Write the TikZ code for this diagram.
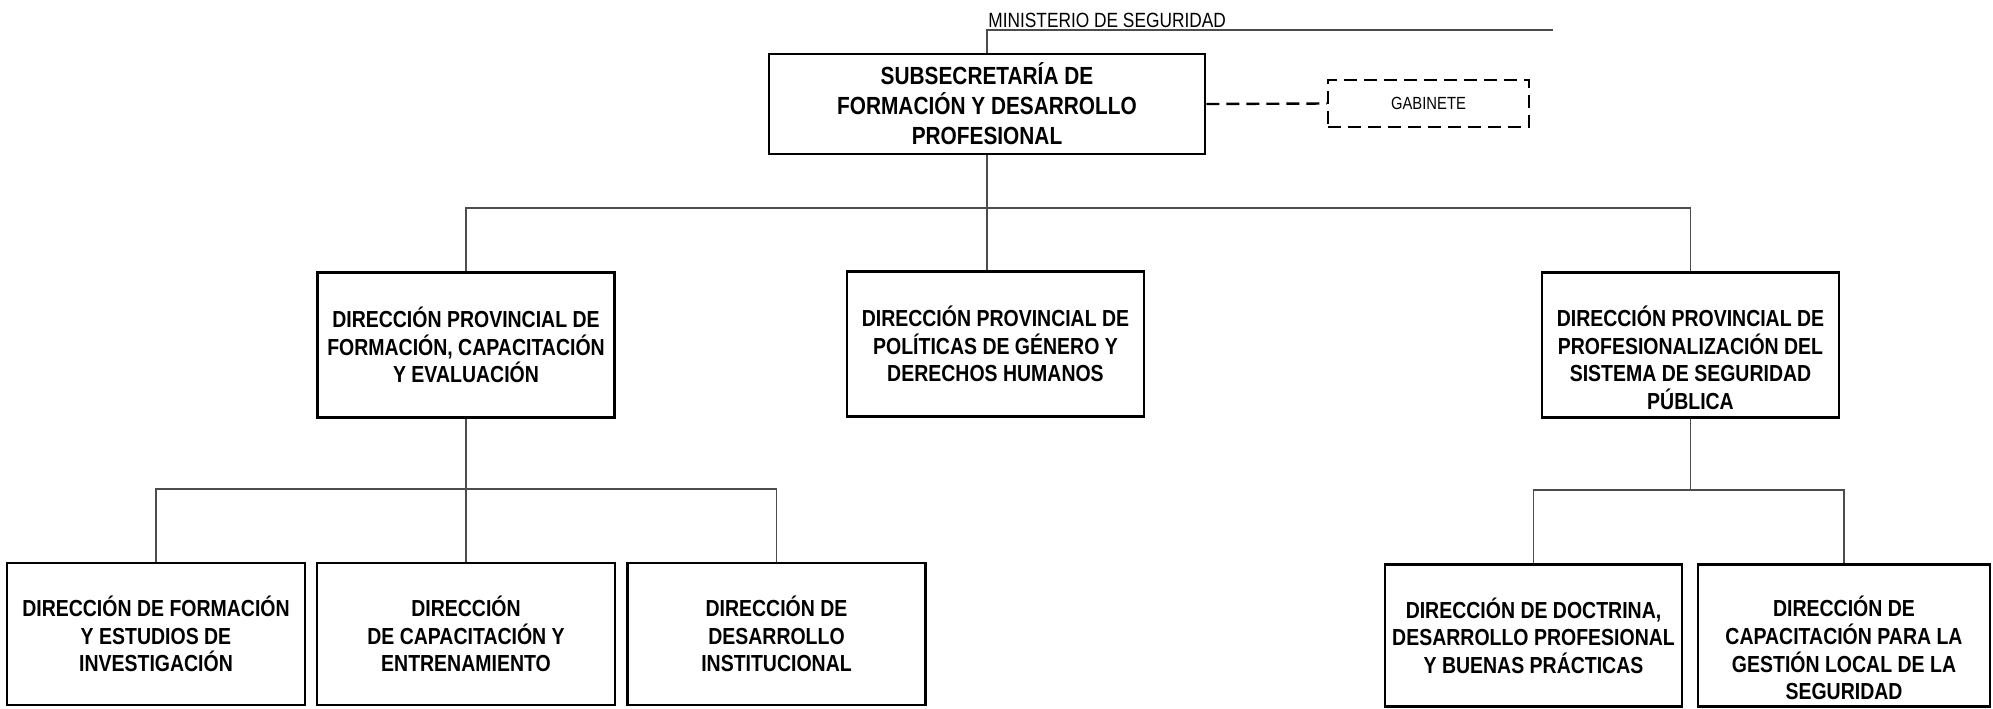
\documentclass[tikz,border=0pt]{standalone}
\usepackage{fontspec}
\setmainfont{Liberation Sans}[FakeStretch=0.84]
\tikzset{ofi/.append style={draw, line width=1.35pt, align=center, inner sep=0pt, minimum width=148.5pt, minimum height=72.5pt, font=\bfseries\fontsize{11.6}{13.8}\selectfont}}
\tikzset{gab/.append style={draw, dash pattern=on 6.5pt off 3.5pt, line width=1.2pt, minimum width=100.5pt, minimum height=23.5pt, inner sep=0pt, font=\fontsize{8.8}{10}\selectfont}}
\tikzset{ln/.append style={draw=black!70, line width=0.65pt}}
\tikzset{gabln/.append style={draw, dash pattern=on 6.5pt off 3.5pt, line width=1.2pt}}

\begin{document}
\begin{tikzpicture}[x=50pt,y=-50pt]
                \useasboundingbox (0,0) rectangle (19.93,7.08);
                % subsecretaria
                \node[ofi, minimum width=218pt, minimum height=50pt, font=\bfseries\fontsize{12.4}{15}\selectfont] (sub) at (9.87,1.04) {SUBSECRETARÍA DE\\FORMACIÓN Y DESARROLLO\\PROFESIONAL};
                \node[gab] (gabi) at (14.285,1.035) {GABINETE};
                \coordinate (mtop) at (9.87,0.30);
                \coordinate (mend) at (15.53,0.30);
                \node[anchor=base west, inner sep=0pt, font=\fontsize{10.3}{12}\selectfont] (mini) at (9.88,0.27) {MINISTERIO DE SEGURIDAD};
                % direcciones provinciales
                \node[ofi] (dpf) at (4.66,3.45) {DIRECCIÓN PROVINCIAL DE\\FORMACIÓN, CAPACITACIÓN\\Y EVALUACIÓN};
                \node[ofi] (dpg) at (9.955,3.44) {DIRECCIÓN PROVINCIAL DE\\POLÍTICAS DE GÉNERO Y\\DERECHOS HUMANOS};
                \node[ofi] (dpp) at (16.905,3.45) {\rule{0pt}{23pt}DIRECCIÓN PROVINCIAL DE\\PROFESIONALIZACIÓN DEL\\SISTEMA DE SEGURIDAD\\PÚBLICA};
                % direcciones
                \node[ofi, minimum width=149pt, minimum height=71pt] (dfe) at (1.56,6.34) {DIRECCIÓN DE FORMACIÓN\\Y ESTUDIOS DE\\INVESTIGACIÓN};
                \node[ofi, minimum width=149pt, minimum height=71pt] (dce) at (4.66,6.34) {DIRECCIÓN\\DE CAPACITACIÓN Y\\ENTRENAMIENTO};
                \node[ofi, minimum width=149pt, minimum height=71pt] (ddi) at (7.765,6.34) {DIRECCIÓN DE\\DESARROLLO\\INSTITUCIONAL};
                \node[ofi, minimum height=71pt] (ddp) at (15.335,6.355) {DIRECCIÓN DE DOCTRINA,\\DESARROLLO PROFESIONAL\\Y BUENAS PRÁCTICAS};
                \node[ofi, minimum width=146pt, minimum height=71pt] (dcg) at (18.44,6.355) {\rule{0pt}{23pt}DIRECCIÓN DE\\CAPACITACIÓN PARA LA\\GESTIÓN LOCAL DE LA\\SEGURIDAD};
                % lineas
                \coordinate (bus) at (9.87,2.08);
                \coordinate (busl) at (4.66,4.89);
                \coordinate (busr) at (16.905,4.90);
                \path[ln] (sub.north) -- (mtop) -- (mend);
                \path[ln] (sub.south) -- (sub.south |- dpg.north);
                \path[ln] (dpf.north) |- (bus) -| (dpp.north);
                \path[ln] (dpf.south) -- (dce.north);
                \path[ln] (dfe.north) |- (busl) -| (ddi.north);
                \path[ln] (dpp.south) -- (busr);
                \path[ln] (ddp.north) |- (busr) -| (dcg.north);
                \path[gabln] (sub.east) -- (gabi.west);
            \end{tikzpicture}
\end{document}
